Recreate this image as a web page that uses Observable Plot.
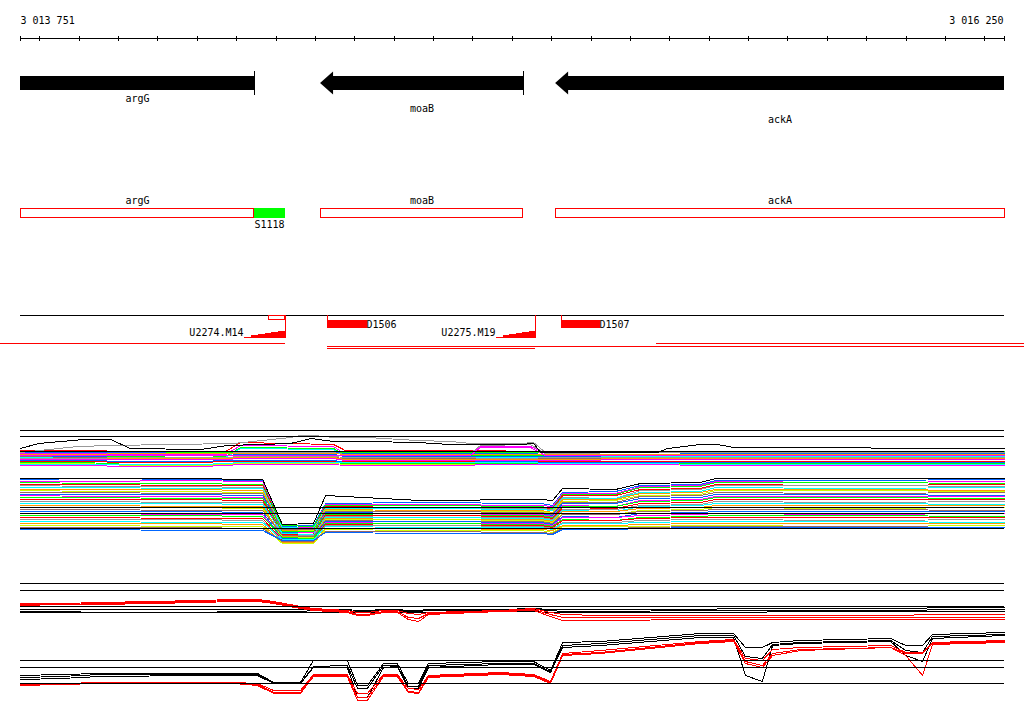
<!DOCTYPE html>
<html><head><meta charset="utf-8">
<script src="https://cdn.jsdelivr.net/npm/d3@7"></script>
<script src="https://cdn.jsdelivr.net/npm/@observablehq/plot@0.6"></script>
<style>
html,body{margin:0;padding:0;background:#fff;}
#chart{position:relative;width:1024px;height:714px;overflow:hidden;}
</style></head><body><div id="chart"></div>
<script>
// ================= DATA =================
const viewStart = 3013751, viewEnd = 3016250;
const rulerLabels = ["3 013 751", "3 016 250"];
const rulerTicks = [3013751, 3013800, 3013900, 3014000, 3014100, 3014200, 3014300, 3014400, 3014500,
  3014600, 3014700, 3014800, 3014900, 3015000, 3015100, 3015200, 3015300, 3015400, 3015500, 3015600,
  3015700, 3015800, 3015900, 3016000, 3016100, 3016200, 3016250];

const geneNames = ["argG", "moaB", "ackA"];
const geneStarts = [3013751, 3014513, 3015110];
const geneEnds = [3014345, 3015028, 3016250];

const siteNames = ["S1118"];
const siteStarts = [3014345];
const siteEnds = [3014424];

const probeNames = ["U2274.M14", "U2275.M19"];
const probeStarts = [3014320, 3014960];
const probeEnds = [3014424, 3015060];
const boxStarts = [3014381];
const boxEnds = [3014424];
const dNames = ["D1506", "D1507"];
const dStarts = [3014531, 3015125];
const dEnds = [3014632, 3015224];
const segStarts = [3013700, 3014531, 3014531, 3015366];
const segEnds = [3014424, 3016301, 3015060, 3016301];
const segLanes = [0, 1, 2, 0];

// --- expression track 1 (upper panel) ---
const g1Pos = [3013751, 3013911, 3014030, 3014208, 3014272, 3014310, 3014546, 3014576, 3014894, 3014919, 3015046, 3015084, 3015369, 3015478, 3016250];
const g1Colors = ["#ff0000","#ff00ff","#00ff00","#00ffff","#999999","#0066ff","#ff9900","#ccff00","#ff00ff","#ff0000",
  "#0066ff","#00ff00","#996666","#00ffff","#ff9900","#ff00ff","#999999","#0066ff","#00ff00","#ff00ff"];
const g1Values = [
  [100,100,99,99,99,108,106,100,100,100,99,99,99,99,99],
  [97,97,96,96,96,105,104,96,96,104,104,97,98,98,98],
  [95,95,94,93,94,103,102,95,95,95,95,95,96,96,96],
  [93,93,93,93,93,102,101,93,93,93,93,93,94,94,94],
  [98,98,98,97,97,98,98,97,97,105,106,97,98,99,99],
  [94,94,95,95,95,96,96,94,94,94,94,94,95,95,95],
  [96,96,97,97,97,97,97,96,96,96,96,96,96,96,96],
  [87,87,85,85,86,87,87,86,86,86,86,86,86,86,86],
  [91,91,91,91,91,92,92,90,90,90,90,90,91,91,91],
  [89,89,88,88,89,89,89,89,89,88,88,89,89,89,89],
  [90,90,89,89,90,90,90,88,88,89,89,88,88,88,88],
  [88,88,86,86,87,88,88,87,87,87,87,87,87,87,87],
  [94,93,93,93,93,93,93,92,92,92,92,92,92,92,92],
  [86,86,86,86,87,88,88,88,88,88,88,87,87,86,86],
  [92,92,92,92,92,93,93,91,91,91,91,91,92,92,92],
  [85,85,84,84,85,86,86,85,85,86,86,86,86,85,85],
  [92,92,93,93,93,94,94,93,93,92,92,93,93,93,93],
  [98,98,98,98,99,99,99,97,97,97,97,98,98,97,97],
  [99,99,99,98,98,99,99,98,98,98,98,98,99,99,99],
  [95,95,95,95,95,95,95,95,95,103,103,95,95,95,95]
];
const g1BlackPos = [3013751, 3013797, 3013911, 3013980, 3014030, 3014208, 3014277, 3014437, 3014488, 3014546, 3014632,
  3014759, 3014843, 3015021, 3015054, 3015072, 3015369, 3015394, 3015478, 3015521, 3015562, 3016250];
const g1BlackValues = [102,107,111,111,102,101,105,107,112,109,109,108,106,106,107,98,98,102,106,106,103,102];
const g1GrayPos = [3013751, 3013896, 3013980, 3014292, 3014437, 3014462, 3014495, 3014546, 3014632, 3014759,
  3014843, 3014894, 3015021, 3015054, 3015084, 3016250];
const g1GrayValues = [98,104,105,107,113,115,115,113,113,110,109,107,107,108,98,98];

const g2Pos = [3013751, 3013954, 3014157, 3014366, 3014416, 3014495, 3014526, 3014767, 3015072, 3015102, 3015128, 3015262, 3015326, 3015478, 3015516, 3015859, 3016250];
const g2Colors = ["#0066ff","#ff00ff","#00ff00","#ff0000","#999999","#00ffff","#ff9900","#ccff00","#996666"];
const g2Values = [
  [71,72,71,70,24,25,47,48,47,45,58,59,65,66,70,70,71],
  [69,69,70,69,23,23,46,46,45,44,57,57,64,65,69,68,69],
  [68,67,67,66,25,24,45,45,44,42,56,56,63,64,68,68,67],
  [66,66,65,65,22,22,44,43,43,41,55,55,61,62,66,65,66],
  [65,64,64,63,21,21,43,43,42,41,53,52,60,61,65,65,64],
  [63,63,62,62,23,22,42,42,41,40,52,52,58,59,63,62,63],
  [61,61,61,60,20,20,41,40,40,38,51,51,57,58,61,61,60],
  [60,59,59,58,19,20,40,39,39,37,49,50,55,56,60,60,59],
  [58,58,57,57,21,21,39,39,38,36,48,48,54,55,58,57,58],
  [56,56,56,55,18,18,38,37,37,35,47,47,52,53,56,56,55],
  [55,54,54,53,17,18,37,37,36,34,45,44,50,51,54,54,54],
  [53,53,52,52,19,19,36,35,35,33,44,44,49,50,53,53,52],
  [51,51,51,50,16,16,35,35,34,32,43,42,47,48,51,51,51],
  [49,49,48,48,15,15,34,33,33,31,41,41,45,46,49,48,49],
  [47,47,47,46,17,16,33,33,32,30,40,39,44,45,47,47,46],
  [45,45,44,44,14,14,32,31,31,29,39,39,42,43,45,45,45],
  [43,43,43,42,13,13,31,31,30,28,37,36,40,41,43,42,43],
  [41,41,40,40,15,14,30,29,29,27,36,36,39,40,41,41,40],
  [39,39,39,38,12,12,29,29,28,26,34,33,37,38,39,39,39],
  [37,37,36,36,11,11,28,27,27,25,33,33,35,36,37,36,37],
  [35,35,35,34,13,12,27,27,26,24,31,30,33,34,35,35,34],
  [33,33,32,32,10,10,26,25,25,23,30,30,32,33,33,33,33],
  [31,31,31,30,9,9,25,25,24,22,28,28,30,31,31,30,31],
  [29,29,28,28,11,11,24,23,23,21,27,27,28,29,29,29,28],
  [27,27,27,26,8,8,22,22,21,20,25,25,26,27,27,27,27],
  [25,25,24,24,7,7,21,20,20,18,24,24,24,25,25,24,25],
  [23,23,23,22,9,9,19,19,18,17,22,22,23,24,24,24,23],
  [21,21,20,20,10,10,18,17,17,16,21,21,22,23,23,23,23]
];
const g2BlackValues = [72,72,72,71,26,27,55,50,51,50,62,61,67,68,72,72,72];
const track1Refs = [120, 114, 99, 43, 37, 22];

// --- expression track 2 (lower panel) ---
const t2Pos = [3013751, 3013853, 3013954, 3014208, 3014292, 3014353, 3014394, 3014462, 3014495, 3014581, 3014607,
  3014632, 3014673, 3014708, 3014736, 3014762, 3014787, 3014970, 3015054, 3015097, 3015128, 3015224, 3015478,
  3015562, 3015592, 3015635, 3015661, 3015732, 3015961, 3015999, 3016042, 3016067, 3016250];
const t2Black = [
  [96,96,96,96,96,96,96,96,96,96,95,95,96,96,95,95,96,96,97,96,96,96,96,97,97,97,97,97,97,97,97,98,98],
  [94,94,93,93,94,94,94,94,95,95,94,94,95,95,94,94,95,95,96,95,94,94,95,95,95,95,95,95,95,95,95,96,96],
  [93,93,93,93,93,93,93,93,93,93,93,93,93,93,93,93,93,94,94,93,93,93,93,93,93,93,94,94,94,94,94,94,94],
  [30,31,32,32,32,32,23,23,45,45,20,20,42,42,22,22,42,44,44,35,63,64,72,72,58,58,63,65,67,60,60,71,73],
  [28,29,31,31,31,31,23,22,39,40,17,17,40,40,19,19,40,42,42,34,60,62,70,70,49,47,61,63,65,55,53,69,71],
  [26,27,29,30,30,30,22,22,38,38,8,8,38,39,17,17,38,41,41,33,58,60,68,68,30,24,60,62,64,50,44,67,70]
];
const t2Red = [
  [102,102,103,105,106,106,104,99,97,95,93,93,95,95,92,91,93,95,97,93,91,90,90,90,90,90,90,90,90,90,91,91,91],
  [101,101,102,104,105,105,103,98,96,94,91,91,94,94,88,87,92,94,96,91,88,88,88,88,88,88,88,88,88,88,88,88,88],
  [100,101,101,103,104,104,102,97,95,93,90,90,93,93,86,84,91,94,95,89,85,85,86,86,86,86,86,86,86,86,86,86,86],
  [22,22,23,23,23,22,15,15,31,31,12,12,31,31,17,16,30,33,31,24,52,55,64,66,47,45,56,58,60,53,53,63,65],
  [21,21,22,22,22,21,13,13,30,30,8,8,30,30,14,13,29,32,30,23,51,53,63,65,44,40,52,56,58,52,52,62,64],
  [20,21,22,22,22,20,12,12,29,29,5,5,29,29,13,12,28,31,29,22,50,52,62,64,42,38,50,55,58,50,30,61,63]
];
const track2Refs = [122, 115, 99, 45, 38, 22];

// ================= DRAWING =================
const chart = document.getElementById("chart");
const RED = "#ff0000";
const crisp = {shapeRendering: "crispEdges"};
const xOpt = {domain: [viewStart, viewEnd], range: [20, 1004], axis: null};
const baseStyle = {fontFamily: "'DejaVu Sans Mono', monospace", fontSize: "10px", background: "transparent", color: "#000", overflow: "visible"};
function mount(svg, top) {
  svg.style.position = "absolute"; svg.style.left = "0px"; svg.style.top = top + "px";
  chart.appendChild(svg);
}
const bpPerPx = (viewEnd - viewStart) / 984;

// ---- layout tracks (ruler, genes, annotation, features) ----
const genes = geneNames.map((name, i) => ({
  name, i, start: geneStarts[i], end: geneEnds[i],
  a: Math.max(geneStarts[i], viewStart), b: Math.min(geneEnds[i], viewEnd)
}));
const headLen = 13 * bpPerPx;
const heads = genes.filter(g => g.start > viewStart).flatMap(g => [
  {g: g.name, x: g.start, y1: 83, y2: 83},
  {g: g.name, x: g.start + headLen, y1: 71.5, y2: 94.5}
]);
const geneLabelY = [98, 108, 119];
const sites = siteNames.map((name, i) => ({name, start: siteStarts[i], end: siteEnds[i]}));
const probes = probeNames.map((name, i) => ({name, start: probeStarts[i], end: probeEnds[i]}));
const boxes = boxStarts.map((s, i) => ({start: s, end: boxEnds[i]}));
const ds = dNames.map((name, i) => ({name, start: dStarts[i], end: dEnds[i]}));
const laneY = [343, 346, 348];
const segs = segStarts.map((s, i) => ({start: s, end: segEnds[i], lane: segLanes[i]}));
const rampHeights = [1, 3, 4, 5, 6, 7];
const ramps = probes.flatMap(p => rampHeights.map((h, k) => ({
  x1: p.start + (p.end - p.start) * k / rampHeights.length,
  x2: p.start + (p.end - p.start) * (k + 1) / rampHeights.length,
  top: 338 - h
})));

const layout = Plot.plot({
  width: 1024, height: 360, margin: 0,
  x: xOpt,
  y: {domain: [0, 360], range: [0, 360], axis: null},
  style: baseStyle,
  marks: [
    // ruler
    Plot.ruleY([38], {x1: viewStart, x2: viewEnd, stroke: "#000", ...crisp}),
    Plot.ruleX(rulerTicks, {x: d => d, y1: 35.5, y2: 41, stroke: "#000", ...crisp}),
    Plot.text([rulerLabels[0]], {x: viewStart, y: 20, text: d => d, textAnchor: "start", fontSize: 10}),
    Plot.text([rulerLabels[1]], {x: viewEnd, y: 20, text: d => d, textAnchor: "end", dx: -1, fontSize: 10}),
    // gene arrows
    Plot.rect(genes, {x1: g => g.start > viewStart ? g.start + headLen : g.a, x2: "b", y1: 76, y2: 90, fill: "#000", ...crisp}),
    Plot.area(heads, {x1: "x", y1: "y1", y2: "y2", z: "g", fill: "#000"}),
    Plot.ruleX(genes.filter(g => g.end < viewEnd), {x: "end", y1: 70.5, y2: 94.5, stroke: "#000", ...crisp}),
    Plot.text(genes, {x: g => (g.a + g.b) / 2, y: g => geneLabelY[g.i], text: "name", fontSize: 10}),
    // annotation track
    Plot.rect(genes, {x1: "a", x2: "b", y1: 208, y2: 217, fill: "#fff", stroke: RED, ...crisp}),
    Plot.rect(sites, {x1: "start", x2: "end", y1: 208, y2: 218, fill: "#00ff00", ...crisp}),
    Plot.text(genes, {x: g => (g.a + g.b) / 2, y: 200.5, text: "name", fontSize: 10}),
    Plot.text(sites, {x: "start", y: 224.5, text: "name", textAnchor: "start", fontSize: 10}),
    // feature track
    Plot.ruleY([315], {x1: viewStart, x2: viewEnd, stroke: "#000", ...crisp}),
    Plot.rect(boxes, {x1: "start", x2: "end", y1: 315, y2: 319, fill: "none", stroke: RED, ...crisp}),
    Plot.rect(ramps, {x1: "x1", x2: "x2", y1: "top", y2: 338, fill: RED, ...crisp}),
    Plot.ruleX(probes, {x: "end", y1: 315, y2: 338, stroke: RED, ...crisp}),
    Plot.text(probes, {x: "start", y: 332, text: "name", textAnchor: "end", dx: -1, fontSize: 10}),
    Plot.ruleX(ds, {x: "start", y1: 315, y2: 320, stroke: RED, ...crisp}),
    Plot.rect(ds, {x1: "start", x2: "end", y1: 319.5, y2: 328, fill: RED, ...crisp}),
    Plot.text(ds, {x: "end", y: 324, text: "name", textAnchor: "start", dx: -1, fontSize: 10}),
    Plot.ruleY(segs, {y: d => laneY[d.lane], x1: "start", x2: "end", stroke: RED, ...crisp})
  ]
});
mount(layout, 0);

// ---- expression panels ----
function seriesLine(pos, vals, color) {
  return Plot.line(vals.map((v, j) => ({x: pos[j], v})), {x: "x", y: "v", stroke: color, strokeWidth: 1, ...crisp});
}
function exprPlot(refs, layers) {
  return Plot.plot({
    width: 1024, height: 130, margin: 0,
    x: xOpt,
    y: {domain: [0, 130], range: [130, 0], axis: null},
    style: baseStyle,
    marks: [
      ...layers,
      Plot.ruleY(refs, {y: d => d, x1: viewStart, x2: viewEnd, stroke: "#000", ...crisp})
    ]
  });
}

const panel1 = exprPlot(track1Refs, [
  ...g1Values.map((vals, i) => seriesLine(g1Pos, vals, g1Colors[i % g1Colors.length])),
  seriesLine(g1GrayPos, g1GrayValues, "#999999"),
  seriesLine(g1BlackPos, g1BlackValues, "#000"),
  ...g2Values.map((vals, i) => seriesLine(g2Pos, vals, g2Colors[i % g2Colors.length])),
  seriesLine(g2Pos, g2BlackValues, "#000")
]);
mount(panel1, 420);

const panel2 = exprPlot(track2Refs, [
  ...t2Black.map(vals => seriesLine(t2Pos, vals, "#000")),
  ...t2Red.map(vals => seriesLine(t2Pos, vals, RED))
]);
mount(panel2, 575);
</script></body></html>
